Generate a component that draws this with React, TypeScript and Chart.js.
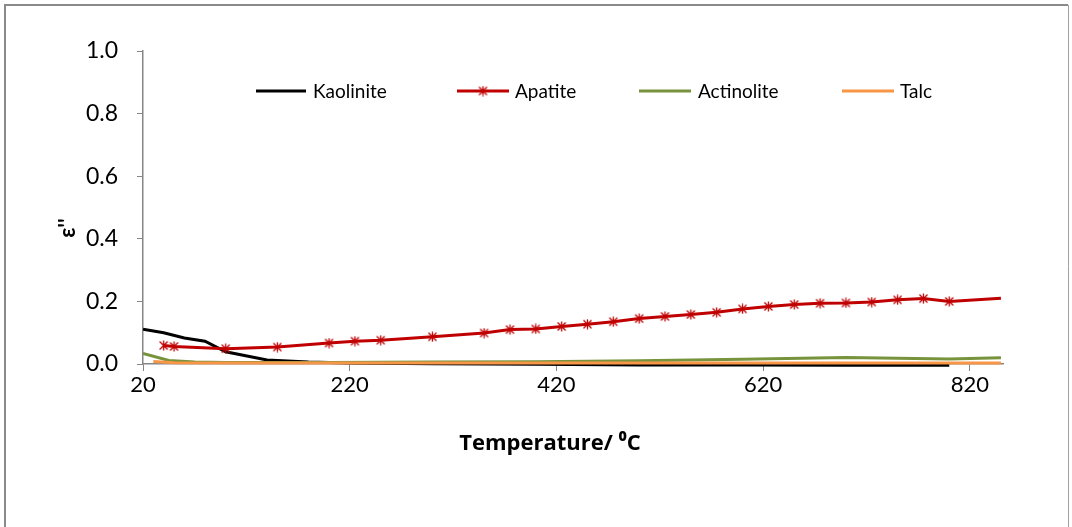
import React, { useEffect, useRef } from 'react';
import { Chart, registerables } from 'chart.js';
Chart.register(...registerables);

// ---- data ----
const seriesNames = ['Kaolinite', 'Apatite', 'Actinolite', 'Talc'];
const seriesColors = ['#000000', '#C00000', '#77933C', '#F79646'];

const kaoliniteT = [20, 40, 60, 80, 100, 140, 180, 220, 300, 400, 500, 600, 700, 800];
const kaoliniteV = [0.111, 0.100, 0.083, 0.073, 0.039, 0.013, 0.006, 0.003, 0.001, -0.001, -0.003, -0.003, -0.004, -0.004];

const apatiteT = [40, 50, 100, 150, 200, 225, 250, 300, 350, 375, 400, 425, 450, 475, 500, 525, 550, 575, 600, 625, 650, 675, 700, 725, 750, 775, 800, 850];
const apatiteV = [0.059, 0.056, 0.049, 0.054, 0.067, 0.073, 0.076, 0.087, 0.099, 0.110, 0.112, 0.120, 0.127, 0.135, 0.145, 0.152, 0.158, 0.165, 0.176, 0.184, 0.190, 0.194, 0.195, 0.198, 0.205, 0.209, 0.200, 0.210];

const actinoliteT = [20, 45, 70, 100, 200, 300, 400, 500, 600, 700, 800, 850];
const actinoliteV = [0.034, 0.011, 0.006, 0.005, 0.005, 0.006, 0.007, 0.010, 0.015, 0.021, 0.016, 0.020];

const talcT = [30, 50, 100, 200, 400, 600, 800, 850];
const talcV = [0.008, 0.004, 0.003, 0.003, 0.003, 0.003, 0.003, 0.003];

const xTicks = [20, 220, 420, 620, 820];
const yTicks = [0, 0.2, 0.4, 0.6, 0.8, 1.0];
const xTitle = 'Temperature/ \u2070C';
const yTitle = "\u03B5''";

const pts = (t: number[], v: number[]) => t.map((x, i) => ({ x, y: v[i] }));

function makeStar(color: string): HTMLCanvasElement {
  const c = document.createElement('canvas');
  c.width = 11;
  c.height = 11;
  const g = c.getContext('2d')!;
  g.strokeStyle = color;
  g.lineWidth = 1.3;
  g.beginPath();
  g.moveTo(1.5, 1.5); g.lineTo(9.5, 9.5);
  g.moveTo(9.5, 1.5); g.lineTo(1.5, 9.5);
  g.moveTo(5.5, 0.5); g.lineTo(5.5, 10.5);
  g.stroke();
  return c;
}

export default function App() {
  const ref = useRef<HTMLCanvasElement | null>(null);

  useEffect(() => {
    if (!ref.current) return;
    const star = makeStar(seriesColors[1]);
    const AXIS = '#868686';

    const framePlugin = {
      id: 'frame',
      beforeDraw(chart: any) {
        const ctx = chart.ctx;
        ctx.save();
        ctx.fillStyle = '#ffffff';
        ctx.fillRect(0, 0, chart.width, chart.height);
        ctx.strokeStyle = '#8a8a8a';
        ctx.lineWidth = 2;
        ctx.beginPath();
        ctx.moveTo(5, chart.height + 5);
        ctx.lineTo(5, 5);
        ctx.lineTo(1068, 5);
        ctx.stroke();
        ctx.lineWidth = 1;
        ctx.strokeStyle = '#a0a0a0';
        ctx.beginPath();
        ctx.moveTo(1068.5, 5);
        ctx.lineTo(1068.5, chart.height + 5);
        ctx.stroke();
        ctx.restore();
      },
      afterDraw(chart: any) {
        const ctx = chart.ctx;
        ctx.save();
        // y title
        ctx.translate(68, 228);
        ctx.rotate(-Math.PI / 2);
        ctx.font = 'bold 22px Lato';
        ctx.fillStyle = '#000';
        ctx.textAlign = 'center';
        ctx.textBaseline = 'middle';
        ctx.fillText(yTitle, 0, 0);
        ctx.restore();

        // x title
        ctx.save();
        ctx.font = 'bold 22px "Open Sans"';
        ctx.fillStyle = '#000';
        ctx.textAlign = 'center';
        ctx.textBaseline = 'middle';
        ctx.fillText(xTitle, 550, 444);
        ctx.restore();

        // legend
        const items = [
          { x1: 256, x2: 306, tx: 313 },
          { x1: 457, x2: 509, tx: 515 },
          { x1: 639, x2: 691, tx: 698 },
          { x1: 842, x2: 894, tx: 900 },
        ];
        const ly = 91;
        ctx.save();
        ctx.font = '19px Lato';
        ctx.textBaseline = 'middle';
        ctx.textAlign = 'left';
        items.forEach((it, i) => {
          ctx.strokeStyle = seriesColors[i];
          ctx.lineWidth = 3;
          ctx.beginPath();
          ctx.moveTo(it.x1, ly);
          ctx.lineTo(it.x2, ly);
          ctx.stroke();
          if (i === 1) {
            ctx.drawImage(star, Math.round((it.x1 + it.x2) / 2) - 5.5, ly - 5.5);
          }
          ctx.fillStyle = '#000';
          ctx.fillText(seriesNames[i], it.tx, ly + 1);
        });
        ctx.restore();
      },
    };

    const clip = { left: 0, top: 0, right: 0, bottom: 6 };
    const chart = new Chart(ref.current, {
      type: 'line',
      data: {
        datasets: [
          {
            label: seriesNames[0],
            data: pts(kaoliniteT, kaoliniteV),
            borderColor: seriesColors[0],
            borderWidth: 3,
            pointRadius: 0,
            order: 3,
            clip,
          },
          {
            label: seriesNames[1],
            data: pts(apatiteT, apatiteV),
            borderColor: seriesColors[1],
            borderWidth: 3,
            pointStyle: star,
            pointRadius: (c: any) => (c.dataIndex === apatiteT.length - 1 ? 0 : 5),
            order: 2,
            clip,
          },
          {
            label: seriesNames[2],
            data: pts(actinoliteT, actinoliteV),
            borderColor: seriesColors[2],
            borderWidth: 3,
            pointRadius: 0,
            order: 1,
            clip,
          },
          {
            label: seriesNames[3],
            data: pts(talcT, talcV),
            borderColor: seriesColors[3],
            borderWidth: 3,
            pointRadius: 0,
            order: 0,
            clip,
          },
        ],
      } as any,
      options: {
        animation: false,
        responsive: false,
        maintainAspectRatio: false,
        layout: { padding: { top: 51, right: 69, bottom: 0, left: 0 } },
        plugins: { legend: { display: false }, tooltip: { enabled: false } },
        elements: { line: { tension: 0 } },
        scales: {
          x: {
            type: 'linear',
            min: 20,
            max: 852,
            afterBuildTicks: (s: any) => {
              s.ticks = xTicks.map((v) => ({ value: v }));
            },
            afterFit: (s: any) => {
              s.height = 163;
            },
            ticks: {
              font: { family: 'Lato', size: 22 },
              color: '#000',
              padding: 1,
              maxRotation: 0,
              callback: (v: any) => String(v),
            },
            grid: { drawOnChartArea: false, drawTicks: true, tickLength: 7, color: AXIS },
            border: { display: true, color: AXIS, width: 1.5 },
          },
          y: {
            type: 'linear',
            min: 0,
            max: 1.0,
            afterBuildTicks: (s: any) => {
              s.ticks = yTicks.map((v) => ({ value: v }));
            },
            afterFit: (s: any) => {
              s.width = 143;
            },
            ticks: {
              font: { family: 'Lato', size: 23 },
              color: '#000',
              padding: 19,
              callback: (v: any) => Number(v).toFixed(1),
            },
            grid: { drawOnChartArea: false, drawTicks: true, tickLength: 6, color: AXIS },
            border: { display: true, color: AXIS, width: 1.5 },
          },
        },
      } as any,
      plugins: [framePlugin],
    });
    return () => chart.destroy();
  }, []);

  return (
    <div style={{ position: 'fixed', left: 0, top: 0, width: 1072, height: 527, background: '#fff' }}>
      <canvas ref={ref} width={1072} height={527} style={{ width: 1072, height: 527, display: 'block' }} />
    </div>
  );
}
